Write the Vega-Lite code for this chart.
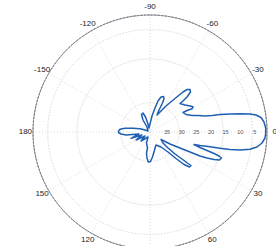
{
  "$schema": "https://vega.github.io/schema/vega-lite/v6.json",
  "width": 234,
  "height": 234,
  "autosize": "none",
  "padding": {"left": 33, "top": 15, "right": 9, "bottom": 0},
  "background": "white",
  "config": {"view": {"stroke": null}},
  "layer": [
    {
      "data": {"values": [{"r": 5}, {"r": 10}, {"r": 15}, {"r": 20}, {"r": 25}, {"r": 30}, {"r": 35}]},
      "mark": {"type": "arc", "theta": 0, "theta2": 6.2832, "filled": false, "stroke": "#d0d0d0", "strokeWidth": 0.7, "strokeDash": [1, 2]},
      "encoding": {"radius": {"field": "r", "type": "quantitative", "scale": {"type": "linear", "domain": [40, 0], "range": [0, 117], "zero": false}}}
    },
    {
      "data": {"values": [
        {"x": -117, "y": 0, "x2": 117, "y2": 0},
        {"x": -101.3, "y": -58.5, "x2": 101.3, "y2": 58.5},
        {"x": -58.5, "y": -101.3, "x2": 58.5, "y2": 101.3},
        {"x": 0, "y": -117, "x2": 0, "y2": 117},
        {"x": 58.5, "y": -101.3, "x2": -58.5, "y2": 101.3},
        {"x": 101.3, "y": -58.5, "x2": -101.3, "y2": 58.5}
      ]},
      "mark": {"type": "rule", "stroke": "#d0d0d0", "strokeWidth": 0.7, "strokeDash": [1, 2]},
      "encoding": {
        "x": {"field": "x", "type": "quantitative", "scale": {"domain": [-117, 117]}, "axis": null},
        "y": {"field": "y", "type": "quantitative", "scale": {"domain": [-117, 117], "reverse": true}, "axis": null},
        "x2": {"field": "x2"},
        "y2": {"field": "y2"}
      }
    },
    {
      "data": {"values": [{"r": 0}]},
      "mark": {"type": "arc", "theta": 0, "theta2": 6.2832, "filled": false, "stroke": "#6a6f78", "strokeWidth": 0.8, "strokeDash": [2.5, 1]},
      "encoding": {"radius": {"field": "r", "type": "quantitative", "scale": {"type": "linear", "domain": [40, 0], "range": [0, 117], "zero": false}}}
    },
    {
      "data": {"values": [
        {"i": 1, "x": -31.7, "y": -0.5}, {"i": 2, "x": -30, "y": -2.7}, {"i": 3, "x": -25, "y": -3.7}, {"i": 4, "x": -17, "y": -3.7},
        {"i": 5, "x": -10, "y": -3.2}, {"i": 6, "x": -5, "y": -2}, {"i": 7, "x": -2, "y": -1},
        {"i": 8, "x": -3, "y": -5}, {"i": 9, "x": -7, "y": -12}, {"i": 10, "x": -8.5, "y": -17.5}, {"i": 11, "x": -7, "y": -19},
        {"i": 12, "x": -4.5, "y": -15}, {"i": 13, "x": -2, "y": -8}, {"i": 14, "x": -1, "y": -4},
        {"i": 15, "x": 0, "y": -8}, {"i": 16, "x": 2, "y": -16}, {"i": 17, "x": 5, "y": -24}, {"i": 18, "x": 8, "y": -31},
        {"i": 19, "x": 11, "y": -35}, {"i": 20, "x": 13.5, "y": -35.5}, {"i": 21, "x": 14, "y": -33}, {"i": 22, "x": 12, "y": -28},
        {"i": 23, "x": 9, "y": -22}, {"i": 24, "x": 7, "y": -17},
        {"i": 25, "x": 10, "y": -20}, {"i": 26, "x": 16, "y": -26}, {"i": 27, "x": 22, "y": -31}, {"i": 28, "x": 28, "y": -36},
        {"i": 29, "x": 33, "y": -40}, {"i": 30, "x": 37, "y": -42.5}, {"i": 31, "x": 40, "y": -42.5}, {"i": 32, "x": 40.5, "y": -40},
        {"i": 33, "x": 37, "y": -35}, {"i": 34, "x": 33, "y": -31}, {"i": 35, "x": 30, "y": -28.5},
        {"i": 36, "x": 35, "y": -27}, {"i": 37, "x": 40, "y": -26}, {"i": 38, "x": 43, "y": -25.2}, {"i": 39, "x": 42, "y": -23.2},
        {"i": 40, "x": 37, "y": -21.5}, {"i": 41, "x": 33, "y": -19.5}, {"i": 42, "x": 36, "y": -17.5}, {"i": 43, "x": 42, "y": -16.5},
        {"i": 44, "x": 48, "y": -16.5},
        {"i": 45, "x": 55, "y": -16}, {"i": 46, "x": 62, "y": -16.5}, {"i": 47, "x": 70, "y": -17.5}, {"i": 48, "x": 80, "y": -18},
        {"i": 49, "x": 90, "y": -18.2}, {"i": 50, "x": 100, "y": -18}, {"i": 51, "x": 106, "y": -17}, {"i": 52, "x": 111, "y": -14.5},
        {"i": 53, "x": 114, "y": -10}, {"i": 54, "x": 115.7, "y": -4}, {"i": 55, "x": 115.7, "y": 1}, {"i": 56, "x": 115, "y": 6},
        {"i": 57, "x": 112, "y": 11}, {"i": 58, "x": 107, "y": 15}, {"i": 59, "x": 100, "y": 17.3}, {"i": 60, "x": 90, "y": 18},
        {"i": 61, "x": 80, "y": 17.5}, {"i": 62, "x": 70, "y": 16.2}, {"i": 63, "x": 60, "y": 14.7}, {"i": 64, "x": 50, "y": 13.5},
        {"i": 65, "x": 44, "y": 12.5},
        {"i": 66, "x": 50, "y": 15.5}, {"i": 67, "x": 57, "y": 18.5}, {"i": 68, "x": 64, "y": 21.5}, {"i": 69, "x": 69, "y": 24},
        {"i": 70, "x": 71.5, "y": 26}, {"i": 71, "x": 69.5, "y": 28}, {"i": 72, "x": 64, "y": 27.5}, {"i": 73, "x": 57, "y": 26},
        {"i": 74, "x": 50, "y": 24}, {"i": 75, "x": 40, "y": 20}, {"i": 76, "x": 30, "y": 16}, {"i": 77, "x": 20, "y": 12},
        {"i": 78, "x": 11, "y": 7.5},
        {"i": 79, "x": 13, "y": 11}, {"i": 80, "x": 18, "y": 16}, {"i": 81, "x": 25, "y": 22}, {"i": 82, "x": 32, "y": 27},
        {"i": 83, "x": 38, "y": 31.5}, {"i": 84, "x": 41, "y": 33.5}, {"i": 85, "x": 39.5, "y": 35}, {"i": 86, "x": 34, "y": 32.5},
        {"i": 87, "x": 26, "y": 26.5}, {"i": 88, "x": 18, "y": 20}, {"i": 89, "x": 11, "y": 15}, {"i": 90, "x": 6, "y": 13},
        {"i": 91, "x": 5, "y": 16}, {"i": 92, "x": 4, "y": 20}, {"i": 93, "x": 2.5, "y": 25}, {"i": 94, "x": 0.5, "y": 29.5},
        {"i": 95, "x": -1.7, "y": 30}, {"i": 96, "x": -3, "y": 26}, {"i": 97, "x": -3.5, "y": 21}, {"i": 98, "x": -2.5, "y": 16},
        {"i": 99, "x": -3.5, "y": 11}, {"i": 100, "x": -2, "y": 5},
        {"i": 101, "x": -9, "y": 9}, {"i": 102, "x": -5, "y": 4}, {"i": 103, "x": -14, "y": 8}, {"i": 104, "x": -8, "y": 3},
        {"i": 105, "x": -19, "y": 6.3}, {"i": 106, "x": -11, "y": 2}, {"i": 107, "x": -24, "y": 3}, {"i": 108, "x": -29, "y": 2},
        {"i": 109, "x": -31.5, "y": 0.5}, {"i": 110, "x": -31.7, "y": -0.5}
      ]},
      "mark": {"type": "line", "stroke": "#1f5fb3", "strokeWidth": 1.5, "strokeJoin": "round"},
      "encoding": {
        "x": {"field": "x", "type": "quantitative", "scale": {"domain": [-117, 117]}, "axis": null},
        "y": {"field": "y", "type": "quantitative", "scale": {"domain": [-117, 117], "reverse": true}, "axis": null},
        "order": {"field": "i", "type": "quantitative"}
      }
    },
    {
      "data": {"values": [
        {"a": -90, "t": "-90"}, {"a": -60, "t": "-60"}, {"a": -30, "t": "-30"}, {"a": 0, "t": "0"},
        {"a": 30, "t": "30"}, {"a": 60, "t": "60"}, {"a": 120, "t": "120"},
        {"a": 150, "t": "150"}, {"a": 180, "t": "180"}, {"a": -150, "t": "-150"}, {"a": -120, "t": "-120"}
      ]},
      "mark": {"type": "text", "font": "Liberation Sans", "fontSize": 8, "fill": "#222222", "align": "center", "baseline": "middle"},
      "encoding": {
        "theta": {"field": "a", "type": "quantitative", "stack": null, "scale": {"type": "linear", "domain": [-90, 270], "range": [0, 6.28319], "zero": false}},
        "radius": {"datum": -2.6, "type": "quantitative", "scale": {"type": "linear", "domain": [40, 0], "range": [0, 117], "zero": false}},
        "text": {"field": "t"}
      }
    },
    {
      "data": {"values": [{"r": 35}, {"r": 30}, {"r": 25}, {"r": 20}, {"r": 15}, {"r": 10}, {"r": 5}]},
      "mark": {"type": "text", "font": "Liberation Sans", "fontSize": 5.5, "fill": "#555555", "align": "center", "baseline": "middle", "dx": 2.5},
      "encoding": {
        "theta": {"datum": 0, "type": "quantitative", "stack": null, "scale": {"type": "linear", "domain": [-90, 270], "range": [0, 6.28319], "zero": false}},
        "radius": {"field": "r", "type": "quantitative", "scale": {"type": "linear", "domain": [40, 0], "range": [0, 117], "zero": false}},
        "text": {"field": "r"}
      }
    }
  ]
}
